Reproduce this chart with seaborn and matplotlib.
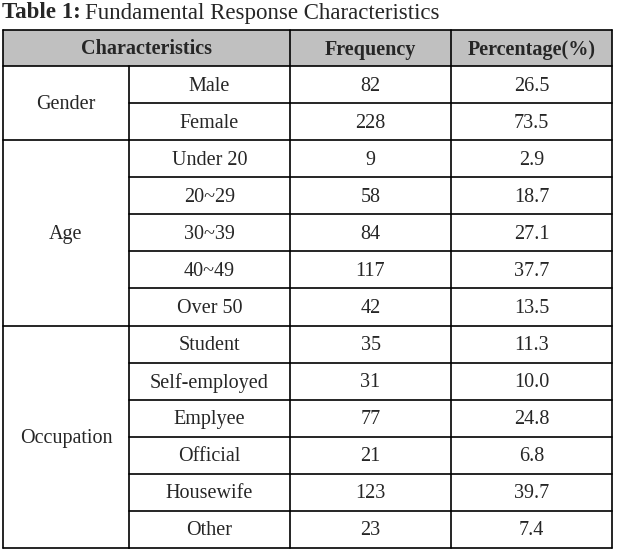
import matplotlib
matplotlib.use("Agg")
import matplotlib.pyplot as plt
import matplotlib.patches as mpatches
import seaborn as sns

# --- Data ---
GROUPS = ["Gender", "Age", "Occupation"]
GROUP_SIZES = [2, 5, 6]
CATEGORIES = ["Male", "Female",
              "Under 20", "20~29", "30~39", "40~49", "Over 50",
              "Student", "Self-employed", "Emplyee", "Official", "Housewife", "Other"]
FREQUENCY = [82, 228, 9, 58, 84, 117, 42, 35, 31, 77, 21, 123, 23]
PERCENTAGE = [26.5, 73.5, 2.9, 18.7, 27.1, 37.7, 13.5, 11.3, 10.0, 24.8, 6.8, 39.7, 7.4]
HEADERS = ["Characteristics", "Frequency", "Percentage(%)"]

sns.set_theme(style="white")
plt.rcParams["font.family"] = ["Liberation Serif", "DejaVu Serif"]

W, H = 618, 551
fig = plt.figure(figsize=(W / 100, H / 100), dpi=100)
ax = fig.add_axes([0, 0, 1, 1])
ax.set_xlim(0, W)
ax.set_ylim(H, 0)
ax.axis("off")

# layout (pixels)
col_x = [3, 129, 290, 451, 612]
top, head_bot, bottom = 30, 66, 548
row_h = (bottom - head_bot) / len(CATEGORIES)
lw = 1.2
fs = 14.5
dy = 1.5   # nudge text down a bit to sit like the reference

# title
t1 = ax.text(2, 13, "Table 1:", fontsize=16.5, fontweight="bold", va="center", ha="left")
fig.canvas.draw()
bb = t1.get_window_extent().transformed(ax.transData.inverted())
ax.text(bb.x1 + 4, 13, "Fundamental Response Characteristics", fontsize=16.5, va="center", ha="left")

# header
ax.add_patch(mpatches.Rectangle((col_x[0], top), col_x[-1] - col_x[0], head_bot - top,
                                facecolor="#c0c0c0", edgecolor="none"))
hy = (top + head_bot) / 2 + dy
ax.text((col_x[0] + col_x[2]) / 2, hy, HEADERS[0], fontsize=fs, fontweight="bold", ha="center", va="center")
ax.text((col_x[2] + col_x[3]) / 2, hy, HEADERS[1], fontsize=fs, fontweight="bold", ha="center", va="center")
ax.text((col_x[3] + col_x[4]) / 2, hy, HEADERS[2], fontsize=fs, fontweight="bold", ha="center", va="center")

# body rows
for i, (cat, fr, pc) in enumerate(zip(CATEGORIES, FREQUENCY, PERCENTAGE)):
    yc = head_bot + (i + 0.5) * row_h + dy
    ax.text((col_x[1] + col_x[2]) / 2, yc, cat, fontsize=fs, ha="center", va="center")
    ax.text((col_x[2] + col_x[3]) / 2, yc, str(fr), fontsize=fs, ha="center", va="center")
    ax.text((col_x[3] + col_x[4]) / 2, yc, f"{pc:.1f}", fontsize=fs, ha="center", va="center")
    y_line = head_bot + (i + 1) * row_h
    ax.plot([col_x[1], col_x[-1]], [y_line, y_line], color="black", lw=lw)

# group labels and separators
start = 0
for g, n in zip(GROUPS, GROUP_SIZES):
    y0 = head_bot + start * row_h
    y1 = head_bot + (start + n) * row_h
    ax.text((col_x[0] + col_x[1]) / 2, (y0 + y1) / 2 + dy, g, fontsize=fs, ha="center", va="center")
    ax.plot([col_x[0], col_x[1]], [y1, y1], color="black", lw=lw)
    start += n

# outer / grid lines
ax.plot([col_x[0], col_x[-1]], [top, top], color="black", lw=lw)
ax.plot([col_x[0], col_x[-1]], [head_bot, head_bot], color="black", lw=lw)
ax.plot([col_x[0], col_x[0]], [top, bottom], color="black", lw=lw)
ax.plot([col_x[-1], col_x[-1]], [top, bottom], color="black", lw=lw)
ax.plot([col_x[1], col_x[1]], [head_bot, bottom], color="black", lw=lw)
ax.plot([col_x[2], col_x[2]], [top, bottom], color="black", lw=lw)
ax.plot([col_x[3], col_x[3]], [top, bottom], color="black", lw=lw)

fig.savefig("out.png", dpi=100)
